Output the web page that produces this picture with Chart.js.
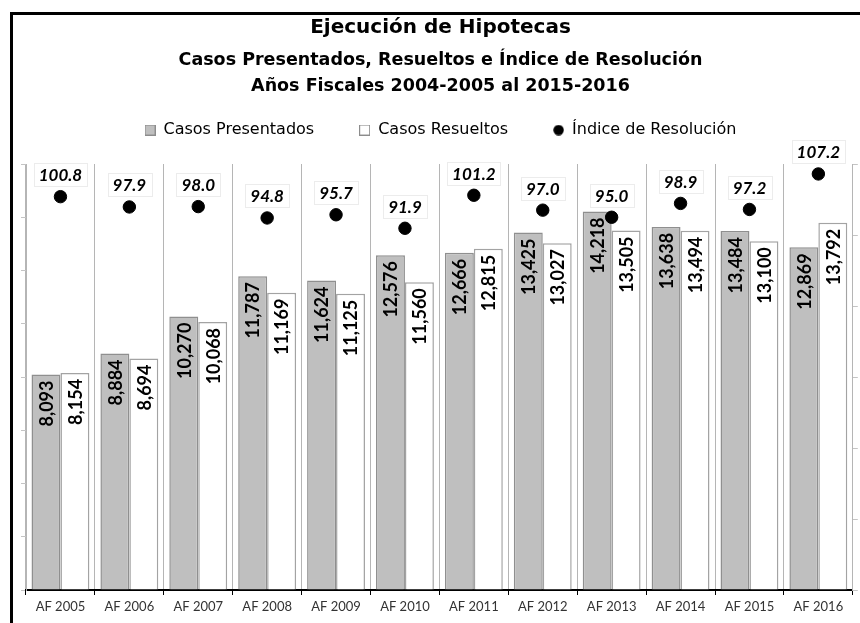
<!DOCTYPE html>
<html><head><meta charset="utf-8">
<script src="https://cdn.jsdelivr.net/npm/chart.js@4"></script>
<style>
html,body{margin:0;padding:0;background:#fff;overflow:hidden}
#wrap{position:relative;width:860px;height:623px;overflow:hidden}
#frame{position:absolute;left:10px;top:12px;width:900px;height:700px;border:3px solid #000;box-sizing:border-box}
canvas{position:absolute;left:0;top:0}
</style></head><body>
<div id="wrap"><div id="frame"></div><canvas id="c" width="860" height="623"></canvas></div>
<script>
const categories = ['AF 2005','AF 2006','AF 2007','AF 2008','AF 2009','AF 2010','AF 2011','AF 2012','AF 2013','AF 2014','AF 2015','AF 2016'];
const casosPresentados = [8093, 8884, 10270, 11787, 11624, 12576, 12666, 13425, 14218, 13638, 13484, 12869];
const casosResueltos = [8154, 8694, 10068, 11169, 11125, 11560, 12815, 13027, 13505, 13494, 13100, 13792];
const indiceResolucion = [100.8, 97.9, 98.0, 94.8, 95.7, 91.9, 101.2, 97.0, 95.0, 98.9, 97.2, 107.2];
const titleText = 'Ejecución de Hipotecas';
const subtitleLines = ['Casos Presentados, Resueltos e Índice de Resolución', 'Años Fiscales 2004-2005 al 2015-2016'];
const seriesNames = ['Casos Presentados', 'Casos Resueltos', 'Índice de Resolución'];

const FONT = 'Lato';
const HFONT = 'DejaVu Sans';

function marker(kind) {
  const c = document.createElement('canvas');
  c.width = 11; c.height = 11;
  const g = c.getContext('2d');
  if (kind === 'circle') {
    g.fillStyle = '#000';
    g.beginPath(); g.arc(5.5, 5.5, 5.2, 0, Math.PI * 2); g.fill();
  } else {
    g.fillStyle = kind === 'gray' ? '#bfbfbf' : '#ffffff';
    g.fillRect(0.5, 0.5, 10, 10);
    g.strokeStyle = '#8c8c8c';
    g.lineWidth = 1;
    g.strokeRect(0.5, 0.5, 10, 10);
  }
  return c;
}
const markers = [marker('gray'), marker('white'), marker('circle')];

const valueLabels = {
  id: 'valueLabels',
  afterDatasetDraw(chart, args) {
    const meta = args.meta;
    if (meta.type !== 'bar') return;
    const ds = chart.data.datasets[args.index];
    const ctx = chart.ctx;
    ctx.save();
    ctx.font = 'bold 18px ' + FONT;
    ctx.fillStyle = '#000';
    ctx.textAlign = 'right';
    ctx.textBaseline = 'middle';
    meta.data.forEach((el, i) => {
      ctx.save();
      ctx.translate(el.x + 1, el.y + 6);
      ctx.rotate(-Math.PI / 2);
      ctx.fillText(ds.data[i].toLocaleString('en-US'), 0, 0);
      ctx.restore();
    });
    ctx.restore();
  },
  afterDatasetsDraw(chart) {
    const ctx = chart.ctx;
    chart.data.datasets.forEach((ds, di) => {
      const meta = chart.getDatasetMeta(di);
      if (meta.type !== 'line') return;
      ctx.save();
      ctx.font = 'italic bold 17px ' + FONT;
      ctx.textAlign = 'center';
      ctx.textBaseline = 'middle';
      meta.data.forEach((el, i) => {
        const t = ds.data[i].toFixed(1);
        const w = ctx.measureText(t).width + 10;
        const h = 23;
        const cx = el.x, cy = el.y - 22;
        ctx.fillStyle = '#fff';
        ctx.fillRect(cx - w / 2, cy - h / 2, w, h);
        ctx.strokeStyle = '#ececec';
        ctx.lineWidth = 1;
        ctx.strokeRect(Math.round(cx - w / 2) + 0.5, Math.round(cy - h / 2) + 0.5, Math.round(w), h);
        ctx.fillStyle = '#000';
        ctx.fillText(t, cx, cy + 1);
      });
      ctx.restore();
    });
  }
};

new Chart(document.getElementById('c'), {
  data: {
    labels: categories,
    datasets: [
      {
        type: 'bar', label: seriesNames[0], data: casosPresentados, yAxisID: 'y', order: 1,
        backgroundColor: '#bfbfbf', borderColor: '#8f8f8f', borderWidth: 1.5,
        categoryPercentage: 0.84, barPercentage: 1.0
      },
      {
        type: 'bar', label: seriesNames[1], data: casosResueltos, yAxisID: 'y', order: 1,
        backgroundColor: '#ffffff', borderColor: '#a3a3a3', borderWidth: 1.5,
        categoryPercentage: 0.84, barPercentage: 1.0
      },
      {
        type: 'line', label: seriesNames[2], data: indiceResolucion, yAxisID: 'y1', order: 0,
        showLine: false, pointRadius: 6.2, pointHoverRadius: 6.2,
        pointBackgroundColor: '#000', pointBorderColor: '#000', backgroundColor: '#000', borderColor: '#000'
      }
    ]
  },
  options: {
    responsive: false,
    animation: false,
    events: [],
    layout: { padding: { left: 21, right: 0, top: 0, bottom: 4.4 } },
    plugins: {
      title: {
        display: true, text: titleText, color: '#000',
        font: { family: HFONT, size: 20, weight: 'bold', lineHeight: 1.2 },
        padding: { top: 16, bottom: 0 }
      },
      subtitle: {
        display: true, text: subtitleLines, color: '#000',
        font: { family: HFONT, size: 17.5, weight: 'bold', lineHeight: 1.486 },
        padding: { top: 7, bottom: -22 }
      },
      legend: {
        display: true, position: 'top',
        labels: {
          color: '#000',
          font: { family: HFONT, size: 16 },
          padding: 45,
          usePointStyle: true,
          pointStyleWidth: 11,
          generateLabels(chart) {
            return chart.data.datasets.map((ds, i) => ({
              text: ds.label, pointStyle: markers[i], datasetIndex: i,
              fillStyle: '#000', strokeStyle: '#000', lineWidth: 0, hidden: false
            }));
          }
        }
      },
      tooltip: { enabled: false }
    },
    scales: {
      x: {
        type: 'category', position: 'bottom',
        offset: true,
        grid: { offset: true, color: '#b5b5b5', lineWidth: 1, tickColor: '#000', tickLength: 5, drawOnChartArea: true },
        border: { color: '#000', width: 2 },
        ticks: { color: '#333', font: { family: FONT, size: 13 }, padding: 4, maxRotation: 0, autoSkip: false }
      },
      xTop: {
        type: 'category', position: 'top', display: true,
        grid: { display: false, drawTicks: false, tickLength: 0 },
        border: { display: false },
        ticks: { display: false },
        title: { display: true, text: '', font: { size: 10, lineHeight: 1 }, padding: { top: 6, bottom: 0 } }
      },
      y: {
        type: 'linear', position: 'left', min: 0, max: 16000,
        ticks: { display: false, stepSize: 2000 },
        grid: { drawOnChartArea: false, color: '#c4c4c4', tickLength: 5 },
        border: { color: '#b5b5b5', width: 1 }
      },
      y1: {
        type: 'linear', position: 'right', min: -10, max: 110,
        ticks: { display: false, stepSize: 20 },
        grid: { drawOnChartArea: false, color: '#c4c4c4', tickLength: 5 },
        border: { color: '#b5b5b5', width: 1 }
      }
    }
  },
  plugins: [valueLabels]
});
</script>
</body></html>
